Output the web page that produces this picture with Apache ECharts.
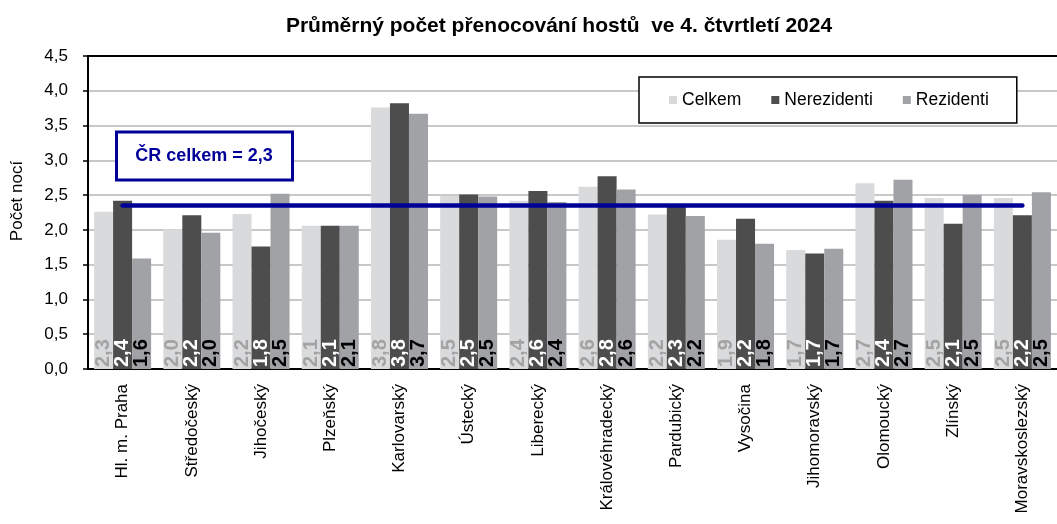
<!DOCTYPE html>
<html>
<head>
<meta charset="utf-8">
<script src="https://cdn.jsdelivr.net/npm/echarts@6/dist/echarts.min.js"></script>
<style>
  html, body { margin: 0; padding: 0; background: #fff; }
  #chart { width: 1057px; height: 524px; }
</style>
</head>
<body>
<div id="chart"></div>
<script>
const FONT = 'Liberation Sans, Arial, sans-serif';

const regions = ['Hl. m. Praha', 'Středočeský', 'Jihočeský', 'Plzeňský', 'Karlovarský', 'Ústecký', 'Liberecký',
  'Královéhradecký', 'Pardubický', 'Vysočina', 'Jihomoravský', 'Olomoucký', 'Zlínský', 'Moravskoslezský'];
const celkem = [2.26, 2.01, 2.23, 2.06, 3.76, 2.49, 2.42, 2.62, 2.22, 1.86, 1.71, 2.67, 2.46, 2.46];
const nerezidenti = [2.42, 2.21, 1.76, 2.06, 3.82, 2.51, 2.56, 2.77, 2.33, 2.16, 1.66, 2.42, 2.09, 2.21];
const rezidenti = [1.59, 1.96, 2.52, 2.06, 3.67, 2.48, 2.40, 2.58, 2.20, 1.80, 1.73, 2.72, 2.50, 2.54];
const crCelkem = 2.35;
const crLabel = 'ČR celkem = 2,3';

const fmt = v => v.toFixed(1).replace('.', ',');

function barSeries(name, data, color, labelColor) {
  return {
    name: name,
    type: 'bar',
    data: data,
    barGap: 0,
    barCategoryGap: '17.6%',
    itemStyle: {color: color},
    label: {
      show: true,
      position: 'insideBottom',
      distance: 2,
      rotate: 90,
      align: 'left',
      verticalAlign: 'middle',
      color: labelColor,
      fontFamily: FONT,
      fontWeight: 'bold',
      fontSize: 20,
      formatter: p => fmt(p.value)
    }
  };
}

const chart = echarts.init(document.getElementById('chart'));
chart.setOption({
  animation: false,
  title: {
    text: 'Průměrný počet přenocování hostů  ve 4. čtvrtletí 2024',
    left: 554,
    textAlign: 'center',
    top: 11,
    textStyle: {fontFamily: FONT, fontWeight: 'bold', fontSize: 21, color: '#000'}
  },
  legend: {
    data: ['Celkem', 'Nerezidenti', 'Rezidenti'],
    left: 639,
    top: 77,
    padding: [14, 28, 14, 30],
    itemGap: 30,
    itemWidth: 8,
    itemHeight: 8,
    icon: 'rect',
    borderColor: '#000',
    borderWidth: 1.5,
    backgroundColor: '#fff',
    textStyle: {fontFamily: FONT, fontSize: 17.5, color: '#000'}
  },
  grid: {left: 88, right: -11, top: 56, bottom: 155},
  xAxis: [{
    type: 'category',
    data: regions,
    axisLine: {lineStyle: {color: '#000', width: 2}},
    axisTick: {length: 5, lineStyle: {color: '#000', width: 1.5}},
    axisLabel: {rotate: 90, margin: 15, fontFamily: FONT, fontSize: 17, color: '#000'}
  }, {
    type: 'category',
    data: regions,
    position: 'top',
    axisLine: {lineStyle: {color: '#000', width: 2}},
    axisTick: {show: false},
    axisLabel: {show: false}
  }],
  yAxis: {
    type: 'value',
    min: 0,
    max: 4.5,
    interval: 0.5,
    axisLine: {show: true, lineStyle: {color: '#000', width: 2}},
    axisTick: {show: true, length: 5, lineStyle: {color: '#000', width: 1.5}},
    axisLabel: {margin: 20, fontFamily: FONT, fontSize: 17, color: '#000', formatter: v => fmt(v)},
    splitLine: {lineStyle: {color: '#c8c8c8', width: 2}}
  },
  series: [
    barSeries('Celkem', celkem, '#d9dadc', '#a3a3a3'),
    barSeries('Nerezidenti', nerezidenti, '#4d4d4d', '#ffffff'),
    barSeries('Rezidenti', rezidenti, '#a0a2a5', '#000000'),
    {
      name: 'ČR celkem',
      type: 'line',
      data: regions.map(() => crCelkem),
      symbol: 'none',
      silent: true,
      z: 5,
      lineStyle: {color: '#000099', width: 4.5, cap: 'round'}
    }
  ],
  graphic: [
    {
      type: 'text',
      x: 17,
      y: 201,
      rotation: Math.PI / 2,
      style: {text: 'Počet nocí', fontFamily: FONT, fontSize: 17, fill: '#000', align: 'center', verticalAlign: 'middle'}
    },
    {
      type: 'rect',
      shape: {x: 116.5, y: 132, width: 176, height: 48},
      style: {fill: '#fff', stroke: '#000099', lineWidth: 3},
      z: 10
    },
    {
      type: 'text',
      x: 204,
      y: 156,
      z: 11,
      style: {text: crLabel, fontFamily: FONT, fontWeight: 'bold', fontSize: 18, fill: '#000099', align: 'center', verticalAlign: 'middle'}
    }
  ]
});
</script>
</body>
</html>
